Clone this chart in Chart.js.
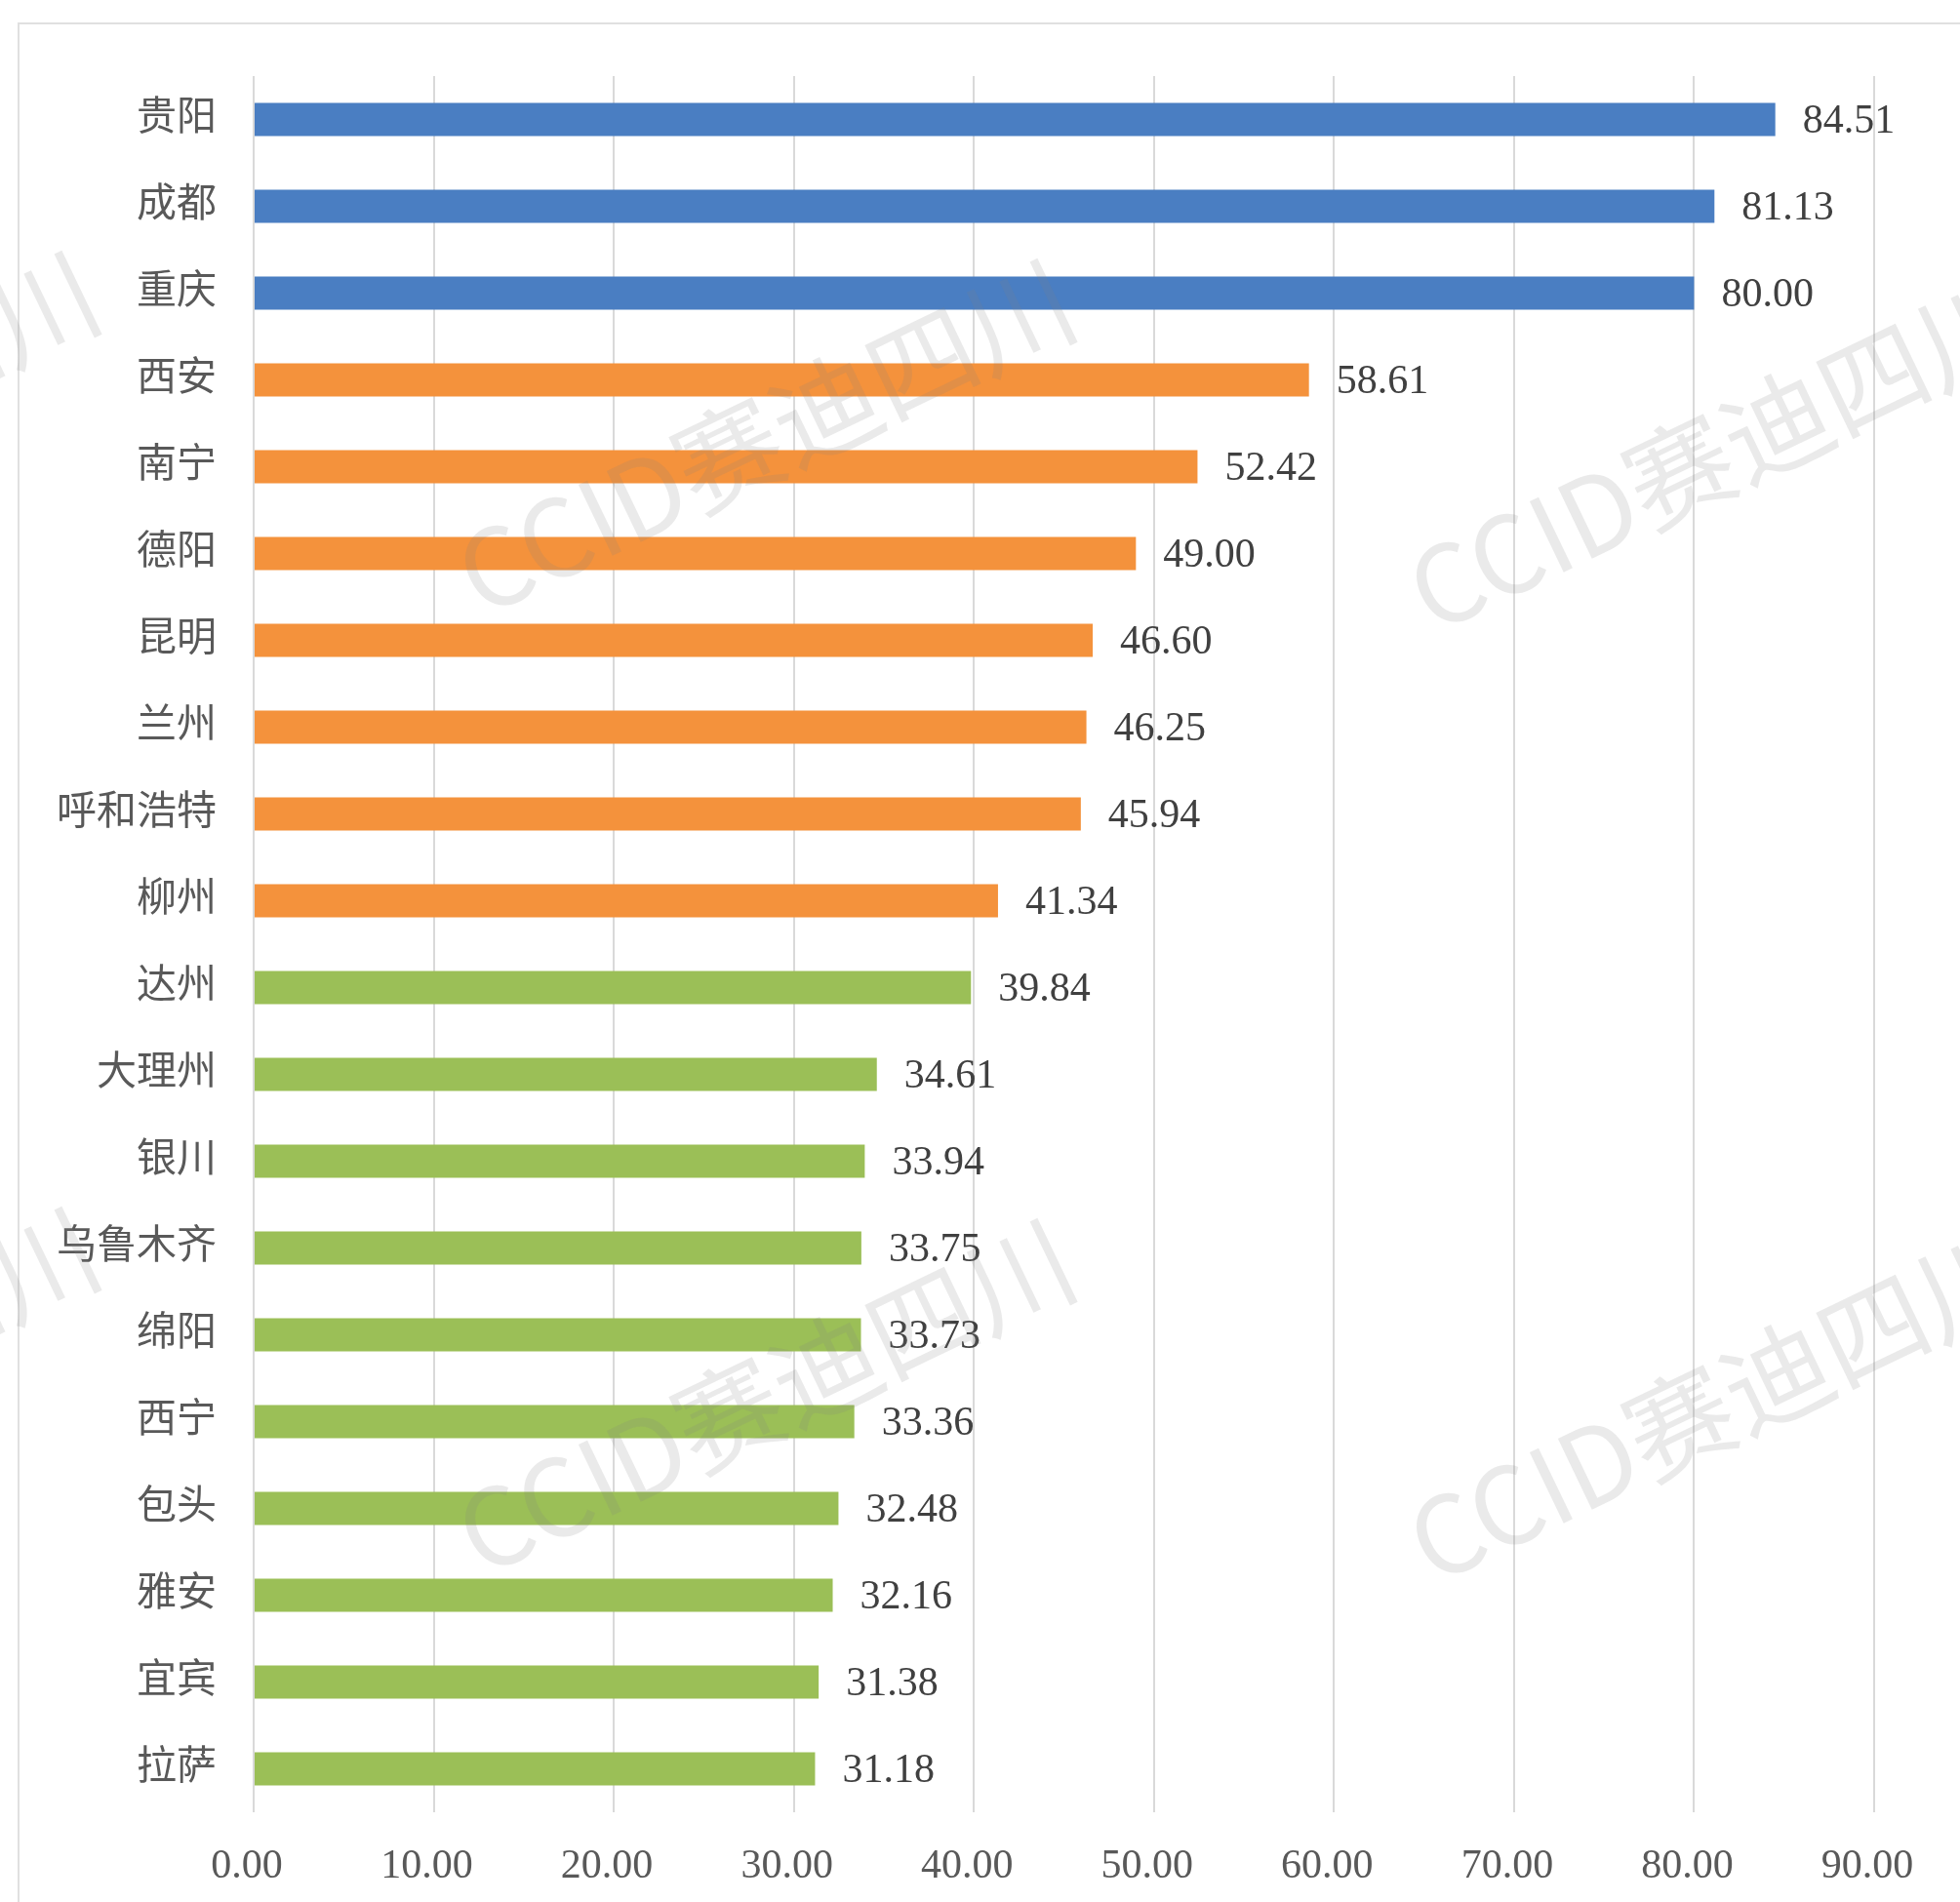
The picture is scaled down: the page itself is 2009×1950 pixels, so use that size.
<!DOCTYPE html>
<html>
<head>
<meta charset="utf-8">
<script src="https://cdn.jsdelivr.net/npm/chart.js@4.4.0/dist/chart.umd.min.js"></script>
<style>
html, body { margin: 0; padding: 0; background: #fff; }
#wrap { position: relative; width: 2009px; height: 1950px; overflow: hidden; }
#frame { position: absolute; left: 18px; top: 23px; width: 2100px; height: 2100px; border: 2px solid #e0e0e0; }
#chart { position: absolute; left: 0; top: 0; }
</style>
</head>
<body>
<div id="wrap">
  <div id="frame"></div>
  <canvas id="chart" width="2009" height="1950"></canvas>
</div>
<script>
const cities = ['贵阳', '成都', '重庆', '西安', '南宁', '德阳', '昆明', '兰州', '呼和浩特', '柳州',
                '达州', '大理州', '银川', '乌鲁木齐', '绵阳', '西宁', '包头', '雅安', '宜宾', '拉萨'];
const values = [84.51, 81.13, 80.00, 58.61, 52.42, 49.00, 46.60, 46.25, 45.94, 41.34,
                39.84, 34.61, 33.94, 33.75, 33.73, 33.36, 32.48, 32.16, 31.38, 31.18];
// tier of each city: 1 = blue, 2 = orange, 3 = green
const tiers = [1, 1, 1, 2, 2, 2, 2, 2, 2, 2, 3, 3, 3, 3, 3, 3, 3, 3, 3, 3];
const xTicks = [0, 10, 20, 30, 40, 50, 60, 70, 80, 90];
const watermarkText = 'CCID赛迪四川';

const tierColors = { 1: '#4a7ec2', 2: '#f4923c', 3: '#9bbf57' };

// value labels at the end of each bar
const valueLabels = {
    id: 'valueLabels',
    afterDatasetsDraw(chart) {
        const ctx = chart.ctx;
        const meta = chart.getDatasetMeta(0);
        ctx.save();
        ctx.font = '42px "Liberation Serif"';
        ctx.fillStyle = '#404040';
        ctx.textBaseline = 'middle';
        meta.data.forEach((bar, i) => {
            ctx.fillText(values[i].toFixed(2), bar.x + 28, bar.y + 2);
        });
        ctx.restore();
    }
};

const watermark = {
    id: 'watermark',
    afterDraw(chart) {
        const ctx = chart.ctx;
        ctx.save();
        ctx.font = '110px "Noto Sans CJK SC"';
        ctx.fillStyle = 'rgba(130, 130, 130, 0.17)';
        ctx.textAlign = 'center';
        ctx.textBaseline = 'middle';
        [[-215, 440], [785, 448], [1760, 465], [-215, 1420], [785, 1432], [1760, 1440]].forEach(([x, y]) => {
            ctx.save();
            ctx.translate(x, y);
            ctx.rotate(-0.447);
            ctx.fillText(watermarkText, 0, 0);
            ctx.restore();
        });
        ctx.restore();
    }
};

const ctx = document.getElementById('chart').getContext('2d');
new Chart(ctx, {
    type: 'bar',
    data: {
        labels: cities,
        datasets: [{
            data: values,
            backgroundColor: tiers.map(t => tierColors[t]),
            borderWidth: 0,
            categoryPercentage: 1,
            barPercentage: 0.38
        }]
    },
    options: {
        indexAxis: 'y',
        responsive: false,
        animation: false,
        layout: { padding: { top: 78, right: 88, bottom: 0, left: 0 } },
        plugins: {
            legend: { display: false },
            tooltip: { enabled: false }
        },
        scales: {
            x: {
                min: 0,
                max: 90,
                afterBuildTicks: scale => { scale.ticks = xTicks.map(v => ({ value: v })); },
                afterFit: scale => { scale.height = 92; },
                grid: { color: '#d9d9d9', lineWidth: 2, drawTicks: false },
                border: { display: false },
                ticks: {
                    padding: 31,
                    labelOffset: -7,
                    color: '#595959',
                    font: { family: 'Liberation Serif', size: 42 },
                    callback: v => v.toFixed(2)
                }
            },
            y: {
                afterFit: scale => { scale.width = 260; },
                grid: { display: false, drawTicks: false },
                border: { display: false },
                ticks: {
                    padding: 38,
                    color: '#595959',
                    font: { family: '"Liberation Serif", "Noto Sans CJK SC"', size: 41 }
                }
            }
        }
    },
    plugins: [valueLabels, watermark]
});
</script>
</body>
</html>
